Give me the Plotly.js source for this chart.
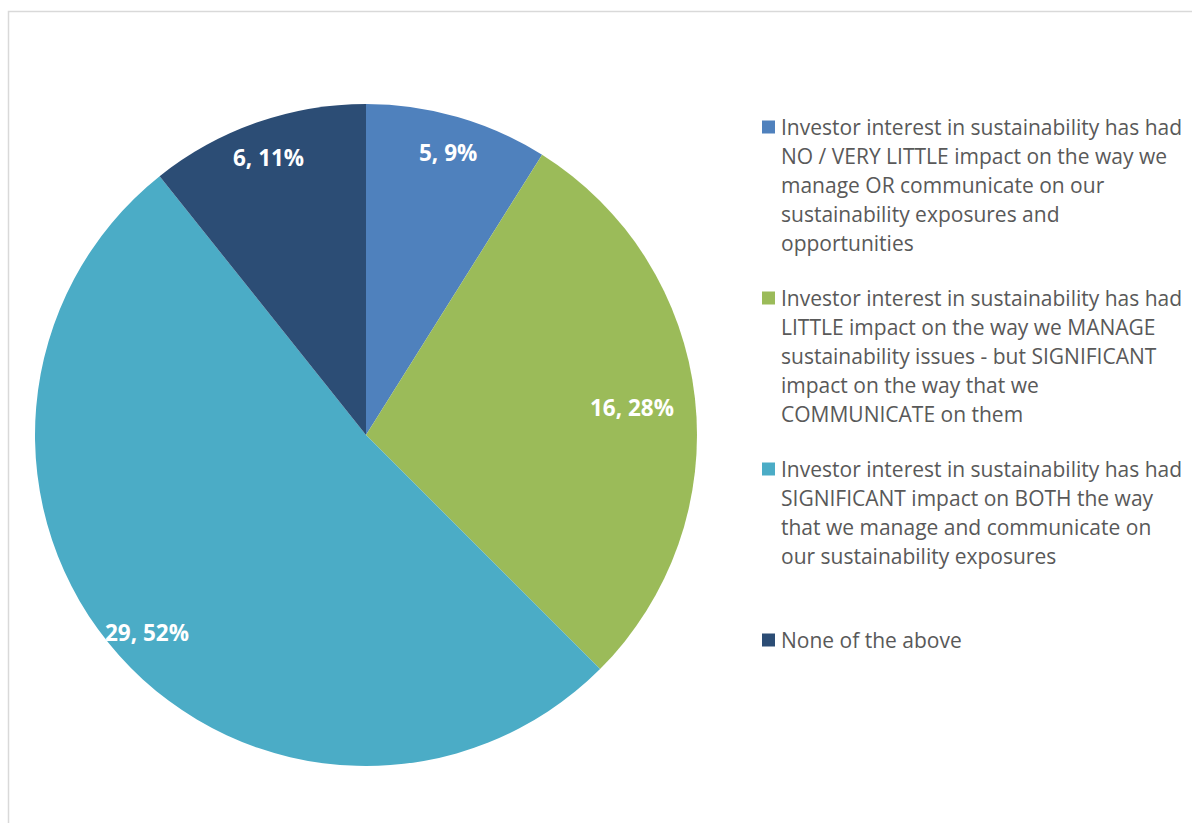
<!DOCTYPE html>
<html>
<head>
<meta charset="utf-8">
<script src="https://cdn.plot.ly/plotly-3.0.1.min.js"></script>
<style>html,body{margin:0;padding:0;background:#fff;}#chart{width:1192px;height:823px;}</style>
</head>
<body>
<div id="chart"></div>
<script>
// ---- data ----
const categories = [
  "Investor interest in sustainability has had NO / VERY LITTLE impact on the way we manage OR communicate on our sustainability exposures and opportunities",
  "Investor interest in sustainability has had LITTLE impact on the way we MANAGE sustainability issues - but SIGNIFICANT impact on the way that we COMMUNICATE on them",
  "Investor interest in sustainability has had SIGNIFICANT impact on BOTH the way that we manage and communicate on our sustainability exposures",
  "None of the above"
];
const legendLines = [
  ["Investor interest in sustainability has had", "NO / VERY LITTLE impact on the way we", "manage OR communicate on our", "sustainability exposures and", "opportunities"],
  ["Investor interest in sustainability has had", "LITTLE impact on the way we MANAGE", "sustainability issues - but SIGNIFICANT", "impact on the way that we", "COMMUNICATE on them"],
  ["Investor interest in sustainability has had", "SIGNIFICANT impact on BOTH the way", "that we manage and communicate on", "our sustainability exposures"],
  ["None of the above"]
];
const values = [5, 16, 29, 6];
const pctLabels = [9, 28, 52, 11];
const colors = ["#4F81BD", "#9BBB59", "#4BACC6", "#2C4D75"];

// ---- layout constants (pixels) ----
const W = 1192, H = 823;
const cx = 366, cy = 435, R = 331;
const FONT = "'Open Sans', sans-serif";
const px = x => x / W;
const py = y => 1 - y / H;

const annotations = [];
const shapes = [];

// slice labels (value, percent) placed near the outer end of each slice
const total = values.reduce((a, b) => a + b, 0);
let cum = 0;
values.forEach((v, i) => {
  const mid = (cum + v / 2) / total * 2 * Math.PI;
  cum += v;
  const txt = v + ", " + pctLabels[i] + "%";
  const hw = txt.length * 6.5;
  const s = Math.abs(Math.sin(mid));
  const r = R - 35 - 0.65 * hw * Math.pow(s, 8);
  const x = cx + r * Math.sin(mid);
  const y = cy - r * Math.cos(mid) + 2;
  annotations.push({
    xref: "paper", yref: "paper", x: px(x), y: py(y),
    xanchor: "center", yanchor: "middle", showarrow: false,
    text: "<b>" + txt + "</b>",
    font: {family: FONT, size: 22.5, color: "#ffffff"}
  });
});

// legend drawn as text + squares
const itemTops = [127, 298, 469, 640];
const lineGap = 29;
legendLines.forEach((lines, i) => {
  lines.forEach((ln, j) => {
    annotations.push({
      xref: "paper", yref: "paper", x: px(779), y: py(itemTops[i] + j * lineGap),
      xanchor: "left", yanchor: "middle", showarrow: false,
      text: ln, font: {family: FONT, size: 21, color: "#595959"}
    });
  });
  shapes.push({
    type: "rect", xref: "paper", yref: "paper",
    x0: px(762), x1: px(775), y0: py(itemTops[i] - 6.5), y1: py(itemTops[i] + 6.5),
    fillcolor: colors[i], line: {width: 0}
  });
});

// chart area border (left and top edges visible)
shapes.push({
  type: "path", xref: "paper", yref: "paper",
  path: "M " + px(8.5) + " " + py(830) + " L " + px(8.5) + " " + py(11.5) + " L " + px(1200) + " " + py(11.5),
  line: {color: "#d9d9d9", width: 1.5}
});

const trace = {
  type: "pie",
  labels: categories,
  values: values,
  sort: false,
  direction: "clockwise",
  rotation: 0,
  marker: {colors: colors, line: {width: 0}},
  textinfo: "none",
  hoverinfo: "label+value+percent",
  showlegend: false,
  domain: {x: [px(cx - R), px(cx + R)], y: [py(cy + R), py(cy - R)]}
};

const layout = {
  width: W, height: H,
  margin: {l: 0, r: 0, t: 0, b: 0},
  paper_bgcolor: "#ffffff",
  showlegend: false,
  annotations: annotations,
  shapes: shapes,
  font: {family: FONT}
};

Plotly.newPlot("chart", [trace], layout, {displayModeBar: false, staticPlot: true});
</script>
</body>
</html>
